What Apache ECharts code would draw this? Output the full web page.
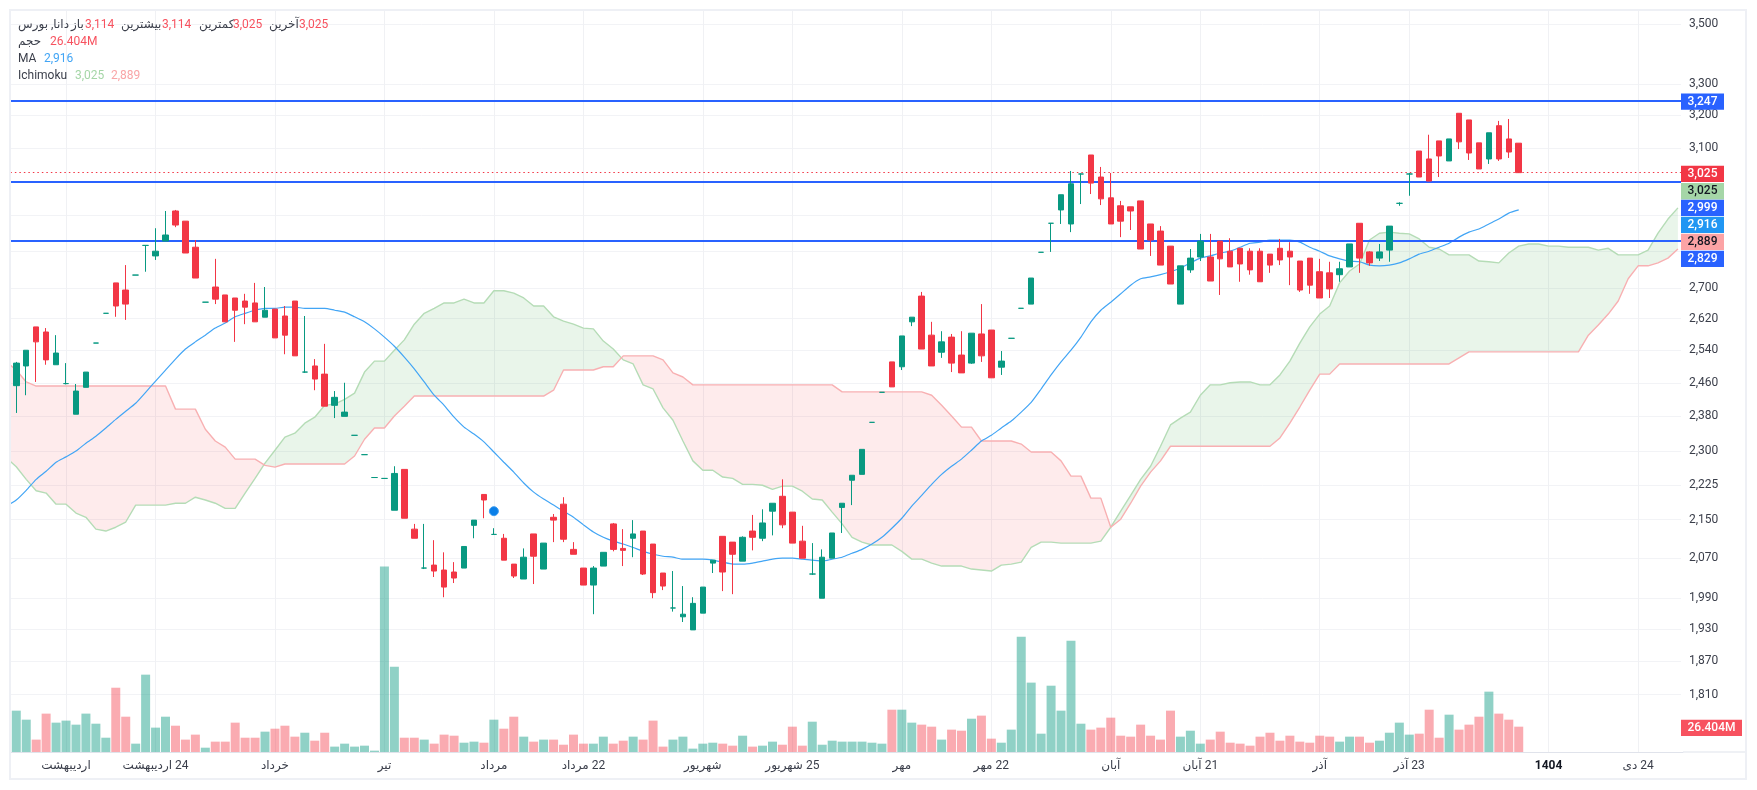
<!DOCTYPE html>
<html>
<head>
<meta charset="utf-8">
<style>
  html, body { margin: 0; padding: 0; background: #fff; }
  #chart { width: 1757px; height: 790px; }
</style>
<script src="https://cdn.jsdelivr.net/npm/echarts@6/dist/echarts.min.js"></script>
</head>
<body>
<div id="chart"></div>
<script>
// first slot is the session cut off by the left edge: only its volume and indicators show
const opens = [
  null,
  2453,2501,2599,2586,2504,2458,2385,2449,2558,2634,
  2714,2695,2735,2816,2787,2828,2913,2884,2811,2663,
  2703,2682,2674,2666,2661,2624,2645,2627,2666,2486,
  2501,2481,2406,2380,2336,2292,2241,2239,2170,2259,
  2130,2050,2056,2046,2042,2050,2138,2204,2119,2111,
  2058,2028,2120,2048,2155,2183,2088,2050,2016,2054,
  2141,2090,2111,2126,2099,2040,1971,1954,1929,1961,
  2060,2115,2103,2064,2126,2111,2168,2200,2166,2105,
  2038,1990,2070,2176,2235,2248,2366,2437,2511,2499,
  2612,2679,2578,2535,2573,2528,2508,2581,2591,2498,
  2570,2647,2658,2797,2878,2916,2876,3021,3078,3012,
  2951,2928,2925,2942,2876,2856,2814,2658,2749,2784,
  2784,2828,2800,2808,2800,2800,2792,2808,2800,2773,
  2781,2744,2741,2736,2757,2878,2798,2781,2803,2935,
  3021,3090,3066,3121,3060,3207,3186,3115,3066,3168,
  3127,3114
];
const closes = [
  null,
  2508,2540,2561,2516,2533,2458,2440,2486,2558,2634,
  2653,2658,2735,2816,2800,2845,2873,2795,2727,2663,
  2671,2612,2642,2650,2612,2642,2571,2578,2526,2486,
  2469,2404,2425,2390,2336,2292,2241,2239,2250,2153,
  2111,2050,2044,2012,2030,2094,2149,2192,2119,2066,
  2034,2072,2074,2101,2149,2109,2078,2016,2050,2082,
  2088,2086,2120,2038,2001,2014,1971,1959,1980,2012,
  2066,2042,2078,2113,2113,2143,2185,2139,2101,2070,
  2038,2072,2122,2185,2246,2304,2366,2437,2450,2576,
  2624,2543,2501,2561,2508,2484,2583,2526,2472,2513,
  2570,2647,2727,2797,2878,2960,2992,3021,2994,2948,
  2876,2884,2913,2806,2831,2762,2711,2760,2781,2828,
  2719,2779,2757,2765,2749,2717,2762,2776,2784,2695,
  2708,2674,2698,2752,2820,2781,2768,2798,2870,2935,
  3021,3012,3000,3075,3127,3118,3084,3036,3146,3066,
  3087,3025
];
const lows = [
  null,
  2388,2430,2462,2504,2504,2456,2385,2449,2558,2634,
  2625,2617,2735,2744,2776,2828,2867,2795,2727,2663,
  2658,2612,2561,2606,2612,2624,2571,2530,2526,2484,
  2442,2404,2376,2380,2336,2292,2241,2239,2170,2153,
  2111,2048,2032,1992,2020,2050,2111,2153,2119,2066,
  2030,2028,2018,2048,2103,2103,2078,2016,1959,2054,
  2084,2054,2072,2036,1990,2006,1964,1944,1929,1961,
  2040,2004,1998,2064,2086,2105,2117,2132,2101,2070,
  2036,1990,2070,2122,2181,2248,2366,2437,2450,2491,
  2601,2543,2501,2521,2486,2484,2506,2511,2472,2479,
  2570,2647,2658,2797,2798,2876,2853,2933,2962,2930,
  2876,2839,2859,2806,2787,2762,2711,2658,2741,2773,
  2719,2682,2757,2717,2736,2717,2741,2762,2708,2690,
  2685,2674,2674,2717,2757,2741,2760,2773,2771,2928,
  2957,3012,3000,3012,3060,3096,3063,3036,3051,3060,
  3069,3025
];
const highs = [
  null,
  2511,2540,2599,2596,2578,2508,2457,2486,2558,2634,
  2714,2762,2735,2816,2864,2913,2916,2884,2831,2663,
  2779,2682,2674,2685,2714,2703,2645,2653,2666,2627,
  2518,2556,2440,2460,2336,2292,2241,2239,2266,2259,
  2141,2141,2107,2082,2062,2094,2149,2204,2132,2120,
  2058,2090,2120,2101,2162,2198,2103,2050,2054,2082,
  2143,2130,2149,2126,2099,2040,2044,2014,1992,2012,
  2066,2115,2103,2115,2160,2172,2185,2237,2166,2137,
  2101,2088,2122,2185,2246,2304,2366,2437,2511,2576,
  2624,2690,2612,2588,2581,2588,2583,2658,2591,2538,
  2570,2647,2727,2797,2878,2960,3030,3023,3078,3042,
  3024,2942,2925,2942,2876,2870,2814,2760,2806,2848,
  2848,2828,2836,2808,2808,2808,2792,2834,2825,2773,
  2781,2779,2771,2771,2820,2878,2800,2820,2870,2938,
  3024,3090,3140,3121,3127,3207,3186,3115,3146,3183,
  3189,3114
];
// million shares
const volumes = [
  31.6,
  43.1,33.7,12.9,40.0,30.6,32.7,28.5,40.0,29.5,14.9,
  67.0,36.8,8.7,80.6,25.4,36.8,27.4,12.9,18.1,4.5,
  10.8,10.8,30.6,14.9,14.9,21.2,24.3,27.4,16.0,20.1,
  11.8,20.1,5.6,8.7,5.6,6.6,1.4,193.2,88.9,14.9,
  14.9,12.9,8.7,18.1,17.0,9.7,10.8,9.7,33.7,24.3,
  36.8,16.0,10.8,12.9,12.9,7.6,18.1,8.7,8.7,16.0,
  8.7,11.8,16.0,12.9,32.7,5.6,12.9,16.0,3.5,8.7,
  9.7,8.7,6.6,17.0,5.6,6.6,10.8,7.6,26.4,6.6,
  31.6,7.6,11.8,10.8,10.8,10.8,9.7,8.7,44.1,44.1,
  30.6,28.5,26.4,12.9,23.3,22.2,34.7,37.9,13.9,9.7,
  23.3,120.2,72.3,19.1,69.1,43.1,116.0,29.5,23.3,25.4,
  35.8,17.0,16.0,28.5,17.0,12.9,43.1,16.0,22.2,8.7,
  12.9,21.2,9.7,8.7,6.6,16.0,20.1,11.8,17.0,10.8,
  9.7,17.0,16.0,10.8,16.0,16.0,9.7,11.8,20.1,30.6,
  18.1,19.1,44.1,14.9,38.9,23.3,28.5,36.8,62.9,40.0,
  33.7,26.404
];
const maValues = [
  2179,
  2192,2213,2237,2255,2275,2287,2300,2318,2334,2353,
  2373,2392,2411,2437,2464,2491,2518,2543,2561,2578,
  2596,2609,2625,2634,2642,2647,2647,2650,2650,2647,
  2647,2647,2642,2637,2625,2612,2594,2573,2550,2523,
  2494,2462,2430,2406,2378,2355,2339,2321,2298,2275,
  2253,2229,2209,2194,2181,2168,2155,2139,2124,2113,
  2105,2099,2092,2084,2078,2074,2072,2068,2068,2068,
  2066,2062,2058,2058,2060,2064,2068,2070,2070,2068,
  2066,2064,2068,2072,2080,2088,2099,2113,2132,2153,
  2179,2202,2226,2248,2266,2282,2302,2323,2336,2353,
  2369,2390,2413,2445,2479,2511,2540,2573,2612,2642,
  2663,2685,2708,2725,2730,2736,2744,2754,2768,2781,
  2787,2795,2800,2811,2822,2825,2831,2831,2831,2825,
  2811,2800,2787,2779,2773,2771,2762,2760,2762,2768,
  2779,2792,2800,2811,2822,2839,2853,2862,2876,2890,
  2907,2916
];
const ichimokuA = [
  2285,
  2265,2237,2212,2207,2183,2183,2164,2155,2130,2126,
  2134,2145,2181,2181,2181,2181,2185,2185,2198,2192,
  2185,2174,2174,2207,2239,2273,2302,2332,2341,2364,
  2378,2406,2409,2420,2435,2486,2513,2513,2540,2566,
  2606,2634,2647,2661,2661,2671,2661,2661,2693,2693,
  2687,2674,2653,2653,2625,2614,2606,2596,2594,2563,
  2543,2516,2506,2455,2445,2400,2371,2323,2278,2257,
  2257,2242,2239,2226,2226,2224,2215,2222,2222,2211,
  2194,2192,2166,2141,2113,2103,2097,2097,2097,2084,
  2068,2068,2060,2054,2054,2054,2048,2046,2044,2056,
  2058,2062,2092,2103,2103,2101,2101,2101,2101,2105,
  2134,2168,2202,2237,2266,2311,2360,2376,2390,2430,
  2455,2455,2460,2462,2462,2455,2455,2479,2513,2558,
  2599,2632,2653,2714,2746,2765,2831,2850,2853,2850,
  2848,2834,2811,2806,2790,2790,2790,2773,2771,2768,
  2795,2814,2820,2820,2814,2814,2811,2811,2811,2803,
  2808,2790,2790,2790,2803,2850,2890,2922
];
const ichimokuB = [
  2511,
  2491,2462,2452,2452,2452,2452,2452,2452,2452,2452,
  2452,2452,2452,2452,2452,2452,2397,2397,2397,2350,
  2323,2309,2282,2282,2282,2268,2264,2271,2271,2271,
  2271,2271,2271,2271,2289,2327,2353,2353,2381,2404,
  2428,2428,2428,2428,2428,2428,2428,2428,2428,2428,
  2428,2428,2428,2428,2442,2491,2491,2491,2491,2499,
  2499,2526,2526,2526,2526,2516,2484,2474,2455,2455,
  2455,2455,2455,2455,2455,2455,2455,2455,2455,2455,
  2455,2455,2455,2438,2438,2438,2438,2438,2438,2438,
  2438,2438,2430,2406,2381,2355,2355,2323,2323,2323,
  2323,2316,2298,2298,2298,2278,2244,2244,2196,2196,
  2134,2151,2185,2222,2253,2278,2311,2311,2311,2311,
  2311,2311,2311,2311,2311,2311,2311,2330,2364,2402,
  2442,2481,2481,2506,2506,2506,2506,2506,2506,2506,
  2506,2506,2506,2506,2506,2521,2536,2536,2536,2536,
  2536,2536,2536,2536,2536,2536,2536,2536,2578,2604,
  2632,2666,2725,2760,2760,2768,2781,2806
];
const yTicks = [3500,3300,3200,3100,3000,2900,2800,2700,2620,2540,2460,2380,2300,2225,2150,2070,1990,1930,1870,1810];
const yLabelTicks = [3500,3300,3200,3100,2700,2620,2540,2460,2380,2300,2225,2150,2070,1990,1930,1870,1810];
const xTickIndex = [6,15,27,38,49,58,70,79,90,99,111,120,132,141,155,164];
const xTickLabels = ['اردیبهشت','24 اردیبهشت','خرداد','تیر','مرداد','22 مرداد','شهریور','25 شهریور','مهر','22 مهر','آبان','21 آبان','آذر','23 آذر','1404','24 دی'];
const levelLines = [3247, 2999, 2829];
const lastClose = 3025;
const signalIndex = 49;
const signalPrice = 2168;

const categoryCount = ichimokuA.length;
const categories = ichimokuA.map((_, i) => {
  const k = xTickIndex.indexOf(i);
  return k >= 0 ? xTickLabels[k] : String(i);
});
const isTick = (i) => xTickIndex.includes(i);

const GREEN = '#089981';
const RED = '#f23645';
const FONT = 'Roboto, "DejaVu Sans", sans-serif';
const TEXT = '#3a3e4a';

// cloud between the two ichimoku spans, split where they cross
function renderCloud(params, api) {
  const runs = [];
  let upper = [], lower = [], sign = 0;
  const close = () => {
    if (upper.length) runs.push({ sign, points: upper.concat(lower.slice().reverse()) });
  };
  let prev = null;
  for (let i = 0; i < categoryCount; i++) {
    const a = api.coord([i, ichimokuA[i]]);
    const b = api.coord([i, ichimokuB[i]]);
    const d = b[1] - a[1];
    const s = d > 0 ? 1 : d < 0 ? -1 : 0;
    if (s !== 0 && sign !== 0 && s !== sign) {
      const t = prev.d / (prev.d - d);
      const cross = [prev.a[0] + (a[0] - prev.a[0]) * t, prev.a[1] + (a[1] - prev.a[1]) * t];
      upper.push(cross);
      lower.push(cross);
      close();
      upper = [cross];
      lower = [cross];
    }
    if (s !== 0) sign = s;
    upper.push(a);
    lower.push(b);
    prev = { a, d };
  }
  close();
  return {
    type: 'group',
    children: runs.map((r) => ({
      type: 'polygon',
      shape: { points: r.points },
      style: { fill: r.sign > 0 ? 'rgba(76,175,80,0.12)' : 'rgba(242,54,69,0.10)', stroke: null }
    }))
  };
}

function tag(text, y, bg, fg, width) {
  return [{
    type: 'rect', z: 20,
    shape: { x: 1681, y: y - 8.2, width: width || 43, height: 16.4 },
    style: { fill: bg }
  }, {
    type: 'text', z: 21,
    style: { text, x: 1681 + (width || 43) / 2, y, fill: fg, font: '500 12px ' + FONT,
      align: 'center', verticalAlign: 'middle', textAlign: 'center', textVerticalAlign: 'middle' }
  }];
}

function note(text, x, y, color) {
  return {
    type: 'text', z: 21,
    style: { text, x, y, fill: color || TEXT, font: '12px ' + FONT,
      align: 'left', verticalAlign: 'middle', textAlign: 'left', textVerticalAlign: 'middle' }
  };
}

const NOTE_RED = '#f7525f';
const option = {
  animation: false,
  backgroundColor: '#fff',
  grid: { left: 1.35, right: 74.1, top: 10, bottom: 38 },
  xAxis: {
    type: 'category',
    data: categories,
    boundaryGap: true,
    axisLine: { lineStyle: { color: '#e0e3eb', width: 1 } },
    axisTick: { show: false },
    axisLabel: {
      interval: (i) => isTick(i),
      margin: 8,
      fontFamily: FONT,
      fontSize: 12,
      color: TEXT,
      hideOverlap: false,
      formatter: (v) => v === '1404' ? '{b|1404}' : '\u200F' + v,
      rich: { b: { fontFamily: FONT, fontSize: 12, fontWeight: 'bold', color: '#131722' } }
    },
    splitLine: {
      show: true,
      interval: (i) => isTick(i),
      alignWithLabel: true,
      lineStyle: { color: '#f0f1f4', width: 1 }
    }
  },
  yAxis: [{
    type: 'log',
    position: 'right',
    min: 1710.6,
    max: 3550,
    axisLine: { show: false },
    axisTick: { show: false, customValues: yTicks },
    axisLabel: {
      customValues: yLabelTicks,
      margin: 6,
      fontFamily: FONT,
      fontSize: 12,
      color: TEXT,
      formatter: (v) => Number(v).toLocaleString('en-US')
    },
    splitLine: { show: true, lineStyle: { color: '#f2f3f6', width: 1 } }
  }, {
    type: 'value',
    show: false,
    min: 0,
    max: 773.3,
    splitLine: { show: false }
  }],
  series: [{
    type: 'custom',
    name: 'cloud',
    z: 1,
    silent: true,
    renderItem: renderCloud,
    data: [[0, ichimokuA[0], ichimokuB[0]]],
    encode: { x: 0, y: [1, 2] }
  }, {
    type: 'line',
    name: 'Ichimoku A',
    z: 2,
    data: ichimokuA,
    symbol: 'none',
    silent: true,
    lineStyle: { color: '#b5dcb6', width: 1.4 }
  }, {
    type: 'line',
    name: 'Ichimoku B',
    z: 2,
    data: ichimokuB,
    symbol: 'none',
    silent: true,
    lineStyle: { color: '#f8b0b2', width: 1.4 }
  }, {
    type: 'line',
    name: 'MA',
    z: 3,
    data: maValues,
    symbol: 'none',
    smooth: 0.2,
    silent: true,
    lineStyle: { color: '#42a5f5', width: 1.2 },
    markLine: {
      silent: true,
      symbol: 'none',
      animation: false,
      label: { show: false },
      data: levelLines.map((v) => ({ yAxis: v, lineStyle: { color: '#2962ff', width: 2, type: 'solid' } }))
        .concat([{ yAxis: lastClose, lineStyle: { color: RED, width: 1, type: [1.5, 3] } }])
    }
  }, {
    type: 'bar',
    name: 'حجم',
    yAxisIndex: 1,
    z: 4,
    barWidth: 9,
    silent: true,
    data: volumes.map((v, i) => ({
      value: v,
      itemStyle: { color: opens[i] !== null && closes[i] >= opens[i] ? 'rgba(8,153,129,0.45)' : 'rgba(242,54,69,0.42)' }
    }))
  }, {
    type: 'candlestick',
    name: 'دانا',
    z: 6,
    barWidth: 6,
    silent: true,
    data: opens.map((o, i) => o === null ? ['-', '-', '-', '-'] : [o, closes[i], lows[i], highs[i]]),
    itemStyle: {
      color: GREEN,
      color0: RED,
      borderColor: GREEN,
      borderColor0: RED,
      borderColorDoji: GREEN,
      borderWidth: 1
    },
    markPoint: {
      silent: true,
      symbol: 'circle',
      symbolSize: 9,
      label: { show: false },
      itemStyle: { color: '#0a7fe8', borderColor: '#3d9cf0', borderWidth: 1 },
      data: [{ coord: [signalIndex, signalPrice] }]
    }
  }],
  graphic: {
    elements: [
      // left mask, frame and the price-scale gutter
      { type: 'rect', z: 19, shape: { x: 0, y: 0, width: 10, height: 790 }, style: { fill: '#fff' } },
      { type: 'rect', z: 19, shape: { x: 1681, y: 11, width: 3, height: 740 }, style: { fill: '#fff' } },
      { type: 'rect', z: 19, shape: { x: 1683, y: 751.5, width: 63, height: 1 }, style: { fill: '#e0e3eb' } },
      { type: 'rect', z: 19, shape: { x: 10, y: 10, width: 1736, height: 769 }, style: { fill: 'none', stroke: '#eef0f5', lineWidth: 2 } },
      note('دانا, بورس', 18, 25),
      note('باز', 71, 25),
      note('3,114', 85, 25, NOTE_RED),
      note('بیشترین', 121, 25),
      note('3,114', 162, 25, NOTE_RED),
      note('کمترین', 199, 25),
      note('3,025', 233, 25, NOTE_RED),
      note('آخرین', 269, 25),
      note('3,025', 299, 25, NOTE_RED),
      note('حجم', 18, 42),
      note('26.404M', 50, 42, NOTE_RED),
      note('MA', 18, 59),
      note('2,916', 44, 59, '#42a5f5'),
      note('Ichimoku', 18, 76),
      note('3,025', 75, 76, '#a5d6a7'),
      note('2,889', 111, 76, '#f9a5a7')
    ].concat(
      tag('3,247', 101.6, '#2962ff', '#fff'),
      tag('3,025', 173.9, '#f23645', '#fff'),
      tag('3,025', 191.3, '#a5d6a7', '#131722'),
      tag('2,999', 207.9, '#2962ff', '#fff'),
      tag('2,916', 224.9, '#2196f3', '#fff'),
      tag('2,889', 241.9, '#fca3a5', '#131722'),
      tag('2,829', 258.9, '#2962ff', '#fff'),
      tag('26.404M', 727.9, '#f7525f', '#fff', 61)
    )
  }
};

const chart = echarts.init(document.getElementById('chart'));
chart.setOption(option);
</script>
</body>
</html>
